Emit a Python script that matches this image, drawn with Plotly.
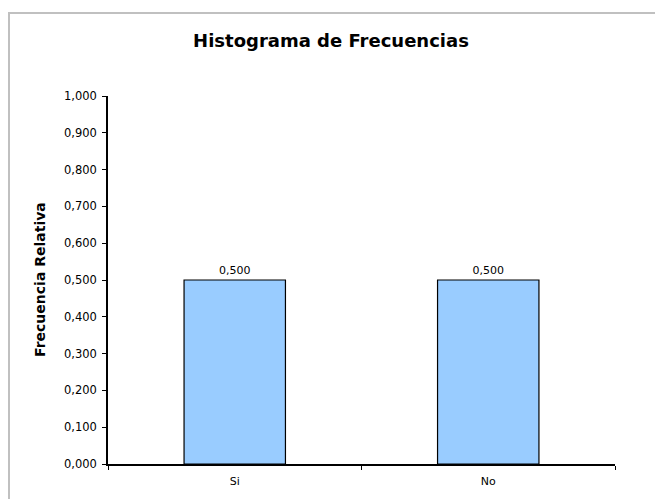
import plotly.graph_objects as go

categories = ["Si", "No"]
rel_freq = [0.5, 0.5]
y_ticks = [0, 0.1, 0.2, 0.3, 0.4, 0.5, 0.6, 0.7, 0.8, 0.9, 1.0]

# page body has an 8px margin: figure is offset by (8, 8)
OFF = 8
W, H = 663 - OFF, 499 - OFF
L, T = 108 - OFF, 96 - OFF
pw, ph = 507, 368
R = W - L - pw
B = H - T - ph

FONT = "DejaVu Sans, Liberation Sans, Arial"

fig = go.Figure(go.Bar(
    x=categories, y=rel_freq, width=0.4,
    marker=dict(color="#99CCFF", line=dict(color="black", width=1.2)),
    texttemplate="%{y:.3f}", textposition="outside",
    textfont=dict(family=FONT, size=11, color="black"),
    cliponaxis=False,
))

def px(x):
    return (x - OFF - L) / pw

def py(y):
    return (H - B - (y - OFF)) / ph

fig.update_layout(
    width=W, height=H,
    margin=dict(l=L, r=R, t=T, b=B),
    paper_bgcolor="white", plot_bgcolor="white",
    separators=",.",
    showlegend=False,
    font=dict(family=FONT, size=11, color="black"),
    title=dict(text="<b>Histograma de Frecuencias</b>", x=(331 - OFF) / W, xanchor="center",
               y=1 - (41 - OFF) / H, yanchor="middle", yref="container", xref="container",
               font=dict(size=18, family=FONT, color="black")),
    xaxis=dict(type="category", range=[-0.5, 1.5], tickson="boundaries",
               ticks="outside", ticklen=4, tickcolor="black", tickwidth=1,
               showline=True, linecolor="black", linewidth=1.5, showgrid=False,
               ticklabelstandoff=6, tickfont=dict(size=11)),
    yaxis=dict(range=[0, 1.0], tickvals=y_ticks, tickformat=".3f",
               ticks="outside", ticklen=4, tickcolor="black", tickwidth=1,
               showline=True, linecolor="black", linewidth=1.5, showgrid=False,
               zeroline=False, ticklabelstandoff=3, tickfont=dict(size=11.5)),
    annotations=[dict(text="<b>Frecuencia Relativa</b>", textangle=-90,
                      x=px(40), y=0.5, xref="paper", yref="paper",
                      xanchor="center", yanchor="middle", showarrow=False,
                      font=dict(size=14, family=FONT, color="black"))],
    shapes=[dict(type="rect", xref="paper", yref="paper",
                 x0=px(9), x1=px(662), y0=py(520), y1=py(13),
                 line=dict(color="#C0C0C0", width=2), layer="below")],
)

fig.write_html("out.html")
